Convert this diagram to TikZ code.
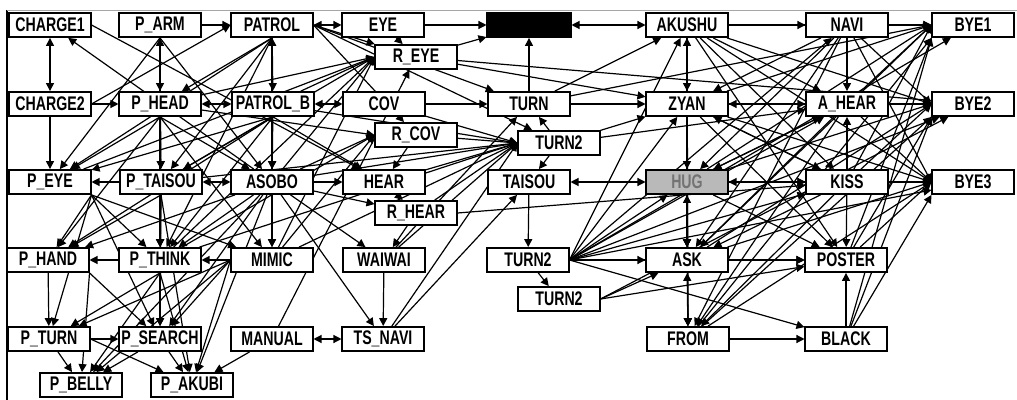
\documentclass[tikz,border=0pt]{standalone}
\usepackage{fontspec}
\newfontfamily\boxfont{Liberation Sans}[FakeStretch=0.72]
\usetikzlibrary{arrows.meta, backgrounds}

\tikzset{
  state/.style={rectangle, draw, line width=1.3pt, fill=white, minimum width=2.03cm,
                minimum height=0.6cm, inner sep=1pt,
                font=\boxfont\fontsize{14}{15}\selectfont\bfseries},
  arr/.style={-{Triangle[length=2mm,width=2mm]}, line width=0.85pt},
  both/.style={{Triangle[length=2mm,width=2mm]}-{Triangle[length=2mm,width=2mm]}, line width=0.85pt}
}

\begin{document}
\begin{tikzpicture}[x=0.025cm, y=-0.025cm]
\useasboundingbox (0,0) rectangle (1017,400);
\draw[line width=1.2pt] (7,10) -- (7,400);
\draw[gray!70, line width=0.4pt] (7,10) -- (1017,10);

% row 1
\node[state] (charge1) at (50,25)  {CHARGE1};
\node[state] (parm)    at (160,25) {P\_ARM};
\node[state] (patrol)  at (272,25) {PATROL};
\node[state] (eye)     at (383,25) {EYE};
\node[state, fill=black, minimum width=2.08cm] (dark) at (529,25) {};
\node[state] (akushu)  at (687,25) {AKUSHU};
\node[state] (navi)    at (847,25) {NAVI};
\node[state] (bye1)    at (973,25) {BYE1};
\node[state] (reye)    at (416,57) {R\_EYE};
% row 2
\node[state] (charge2) at (50,104)  {CHARGE2};
\node[state] (phead)   at (160,104) {P\_HEAD};
\node[state] (patrolb) at (273,104) {PATROL\_B};
\node[state] (cov)     at (384,104) {COV};
\node[state] (turn)    at (529,104) {TURN};
\node[state] (zyan)    at (687,104) {ZYAN};
\node[state] (ahear)   at (847,104) {A\_HEAR};
\node[state] (bye2)    at (973,104) {BYE2};
\node[state] (rcov)    at (416,135) {R\_COV};
\node[state] (turnb)   at (559,143) {TURN2};
% row 3
\node[state] (peye)    at (50,182)  {P\_EYE};
\node[state] (ptaisou) at (161,182) {P\_TAISOU};
\node[state] (asobo)   at (272,182) {ASOBO};
\node[state] (hear)    at (384,182) {HEAR};
\node[state] (taisou)  at (529,182) {TAISOU};
\node[state, fill=gray!55, text=black!55] (hug) at (687,182) {HUG};
\node[state] (kiss)    at (847,182) {KISS};
\node[state] (bye3)    at (973,182) {BYE3};
\node[state] (rhear)   at (416,213) {R\_HEAR};
% row 4
\node[state] (phand)   at (48,260)  {P\_HAND};
\node[state] (pthink)  at (160,260) {P\_THINK};
\node[state] (mimic)   at (272,260) {MIMIC};
\node[state] (waiwai)  at (384,260) {WAIWAI};
\node[state] (turnc)   at (528,260) {TURN2};
\node[state] (ask)     at (687,260) {ASK};
\node[state] (poster)  at (846,260) {POSTER};
\node[state] (turnd)   at (559,299) {TURN2};
% row 5
\node[state] (pturn)   at (49,339)  {P\_TURN};
\node[state] (psearch) at (160,339) {P\_SEARCH};
\node[state] (manual)  at (272,339) {MANUAL};
\node[state] (tsnavi)  at (383,339) {TS\_NAVI};
\node[state] (from)    at (688,339) {FROM};
\node[state] (blk)     at (846,339) {BLACK};
\node[state] (pbelly)  at (81,385)  {P\_BELLY};
\node[state] (pakubi)  at (192,385) {P\_AKUBI};

\begin{scope}[on background layer]
% left block
\draw[both] (charge1) -- (charge2);
\draw[arr] (charge2) -- (peye);
\draw[arr] (charge2) -- (phead);
\draw[arr] (charge2.east) -- (patrol.west);
\draw[arr] (charge1.east) -- (hear);
\draw[arr] (asobo) -- (charge1);
\draw[arr] (parm) -- (patrol);
\draw[both] (parm) -- (phead);
\foreach \t in {peye, ptaisou, pthink, asobo}
  \draw[arr] (parm.south) -- (\t);
\draw[both] (patrol) -- (eye);
\draw[both] (patrol) -- (patrolb);
\foreach \t in {phead, ptaisou, asobo, pthink, mimic, peye}
  \draw[arr] (patrol.south) -- (\t);
\foreach \t in {reye, turn, turnb, rcov}
  \draw[arr] (patrol.east) -- (\t);
\draw[both] (patrolb) -- (phead);
\draw[both] (patrolb) -- (cov);
\draw[arr] (patrolb) -- (asobo);
\foreach \t in {peye, phand, ptaisou, pthink, hear}
  \draw[arr] (patrolb.south) -- (\t);
\foreach \t in {ptaisou, peye, phand, pthink, asobo, mimic}
  \draw[arr] (phead.south) -- (\t);
\draw[arr] (ptaisou) -- (peye);
\draw[both] (ptaisou) -- (asobo);
\foreach \t in {pthink, phand, psearch, pakubi}
  \draw[arr] (ptaisou.south) -- (\t);
\foreach \t in {phand, pturn, pthink, psearch, mimic}
  \draw[arr] (peye.south east) -- (\t);
\foreach \t in {mimic, pthink, phand, psearch, pakubi, pbelly, tsnavi, hear, waiwai, rhear}
  \draw[arr] (asobo) -- (\t);
\draw[arr] (phand) -- (pturn);
\foreach \t in {psearch, pbelly}
  \draw[arr] (phand.south east) -- (\t);
\draw[arr] (pthink) -- (phand);
\foreach \t in {psearch, pakubi, pbelly, pturn}
  \draw[arr] (pthink.south) -- (\t);
\draw[arr] (mimic) -- (pthink);
\foreach \t in {psearch, pakubi, pturn, pbelly}
  \draw[arr] (mimic.west) -- (\t);
\draw[arr] (pturn) -- (psearch);
\draw[arr] (pturn) -- (pbelly);
\draw[arr] (pturn.east) -- (pakubi);
\draw[arr] (psearch) -- (pakubi);
\draw[arr] (psearch) -- (pbelly);
\draw[both] (manual) -- (tsnavi);
\draw[arr] (manual) -- (pakubi);
\draw[arr] (manual) -- (reye);
% fans into the middle
\foreach \s in {phead, ptaisou, asobo, pthink, mimic, patrolb, peye}
  \draw[arr] (\s) -- (reye.west);
\foreach \s in {phead, asobo, pthink, mimic}
  \draw[arr] (\s) -- (rcov.west);
\foreach \s in {cov, rcov, hear, rhear, asobo, ptaisou, patrolb, waiwai, tsnavi, mimic, pthink}
  \draw[arr] (\s) -- (turnb.west);
% middle
\draw[arr] (eye) -- (dark);
\draw[arr] (reye) -- (dark);
\draw[arr] (eye) -- (reye);
\draw[both] (dark) -- (akushu);
\draw[arr] (turn) -- (dark);
\draw[arr] (turnb) -- (turn);
\draw[arr] (cov) -- (turn);
\draw[arr] (reye) -- (zyan);
\draw[arr] (reye) -- (bye2);
\draw[arr] (rcov) -- (hear);
\draw[arr] (rhear) -- (waiwai);
\draw[arr] (rhear.east) -- (kiss);
\draw[arr] (hear) -- (rhear);
\draw[arr] (waiwai) -- (turn);
\draw[arr] (tsnavi) -- (taisou);
\draw[arr] (waiwai) -- (tsnavi);
\draw[arr] (turnb) -- (taisou);
\draw[arr] (taisou) -- (turnc);
\draw[both] (taisou) -- (hug);
\draw[arr] (turn) -- (zyan);
\draw[arr] (turn) -- (akushu);
\draw[arr] (turnb) -- (zyan);
\draw[arr] (turnb) -- (ahear);
\draw[arr] (turnc) -- (turnd);
\foreach \t in {ask, blk, poster, zyan, akushu, navi, ahear, kiss, hug, bye1, bye2, bye3}
  \draw[arr] (turnc.east) -- (\t);
\foreach \t in {ask, poster, bye2}
  \draw[arr] (turnd.east) -- (\t);
% right block
\draw[both] (akushu) -- (zyan);
\draw[arr] (akushu) -- (navi);
\draw[arr] (zyan) -- (hug);
\draw[arr] (hug) -- (kiss);
\draw[both] (hug) -- (ask);
\draw[both] (ask) -- (from);
\draw[arr] (ask) -- (poster);
\draw[arr] (from) -- (blk);
\draw[arr] (blk) -- (poster);
\draw[arr] (navi) -- (ahear);
\draw[arr] (kiss) -- (ahear);
\draw[arr] (kiss) -- (poster);
\foreach \s in {akushu, zyan, hug}
  \foreach \t in {ahear, kiss, poster, ask, from}
    \draw[arr] (\s) -- (\t);
\foreach \s in {ahear, kiss, navi}
  \foreach \t in {zyan, hug, ask, from}
    \draw[arr] (\s) -- (\t);
\foreach \s in {akushu, navi, zyan, ahear, hug, kiss, ask, turn}
  \draw[arr] (\s) -- (bye1.west);
\foreach \s in {poster, blk, from}
  \draw[arr] (\s) -- (bye1.south west);
\foreach \s in {akushu, navi, zyan, ahear, hug, kiss, ask}
  \draw[arr] (\s) -- (bye2.west);
\foreach \s in {poster, blk, from}
  \draw[arr] (\s) -- (bye2.south west);
\foreach \s in {akushu, navi, zyan, ahear, hug, kiss, ask, from, poster}
  \draw[arr] (\s) -- (bye3.west);
\draw[arr] (blk) -- (bye3.south west);
\end{scope}
\end{tikzpicture}
\end{document}
